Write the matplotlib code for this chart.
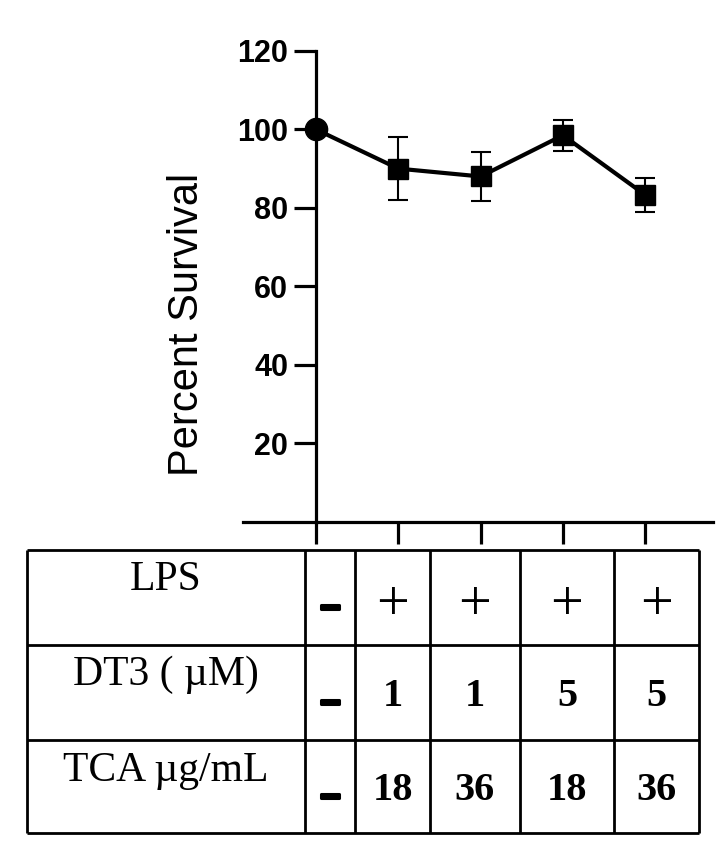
import matplotlib.pyplot as plt
import matplotlib.patheffects as pe
import numpy as np

# values
survival = [100, 90, 88, 98.5, 83.3]
sem = [0, 8.0, 6.3, 4.0, 4.4]
row_labels = ["LPS", "DT3 ( \u00b5M)", "TCA \u00b5g/mL"]
lps = ["-", "+", "+", "+", "+"]
dt3 = ["-", "1", "1", "5", "5"]
tca = ["-", "18", "36", "18", "36"]
yticks = [20, 40, 60, 80, 100, 120]

W, H = 726, 851
fig = plt.figure(figsize=(W / 100, H / 100), dpi=100)

# main plot, placed in pixel terms
x0_px, x1_px, y0_px, y1_px = 243, 713, 521.5, 51
ax = fig.add_axes([x0_px / W, 1 - y0_px / H, (x1_px - x0_px) / W, (y0_px - y1_px) / H])

x = np.arange(len(survival))
ax.plot(x, survival, color="black", lw=3, zorder=3, clip_on=False)
ax.errorbar(x[1:], survival[1:], yerr=sem[1:], fmt="none", ecolor="black",
            elinewidth=1.5, capsize=7, capthick=1.5, zorder=2, clip_on=False)
ax.plot(x[:1], survival[:1], "o", color="black", ms=16, zorder=4, clip_on=False)
ax.plot(x[1:], survival[1:], "s", color="black", ms=15, zorder=4, clip_on=False)

dx = 82.3
ax.set_xlim((x0_px - 316) / dx, (x1_px - 316) / dx)
ax.set_ylim(0, 120)

for s in ["top", "right"]:
    ax.spines[s].set_visible(False)
ax.spines["left"].set_position(("data", 0))
ax.spines["left"].set_bounds(0, 120)
ax.spines["left"].set_linewidth(2.3)
ax.spines["bottom"].set_linewidth(2.3)

ax.set_xticks(x)
ax.set_xticklabels([])
ax.set_yticks(yticks)
ax.tick_params(axis="both", direction="out", length=16, width=2.3)
ax.tick_params(axis="y", pad=4)
for lab in ax.get_yticklabels():
    lab.set_fontfamily("Liberation Sans")
    lab.set_fontweight("bold")
    lab.set_fontsize(22)

ax.set_ylabel("Percent Survival", fontsize=30, family="Liberation Sans", va="center")
ax.yaxis.set_label_coords((187 - x0_px) / (x1_px - x0_px), (y0_px - 324.5) / (y0_px - y1_px))

# table underneath, drawn in pixel coordinates
tab = fig.add_axes([0, 0, 1, 1])
tab.set_xlim(0, W)
tab.set_ylim(H, 0)
tab.axis("off")

col_edges = [27, 305, 355, 430, 520, 614, 699]
row_edges = [550, 645, 740, 833]

tab.hlines(row_edges, col_edges[0], col_edges[-1], color="black", lw=2)
tab.vlines(col_edges, row_edges[0], row_edges[-1], color="black", lw=2)

dash_fx = [pe.withStroke(linewidth=2.2, foreground="black")]
label_x = (col_edges[0] + col_edges[1]) / 2
for r, (label, vals) in enumerate(zip(row_labels, [lps, dt3, tca])):
    top, bot = row_edges[r], row_edges[r + 1]
    mid = (top + bot) / 2
    tab.text(label_x, top + 11, label, ha="center", va="top",
             family="Liberation Serif", fontsize=30)
    for c, v in enumerate(vals):
        cx = (col_edges[c + 1] + col_edges[c + 2]) / 2
        if v == "-":
            tab.text(cx, mid + 9.5, "\u2013", ha="center", va="center",
                     family="Liberation Sans", fontweight="bold", fontsize=26,
                     path_effects=dash_fx)
        elif v == "+":
            tab.text(cx, mid + 3, "+", ha="center", va="center_baseline",
                     family="Liberation Serif", fontsize=42)
        else:
            tab.text(cx, mid - 1, v, ha="center", va="center_baseline",
                     family="Liberation Serif", fontweight="bold", fontsize=29)

fig.savefig("out.png", dpi=100)
